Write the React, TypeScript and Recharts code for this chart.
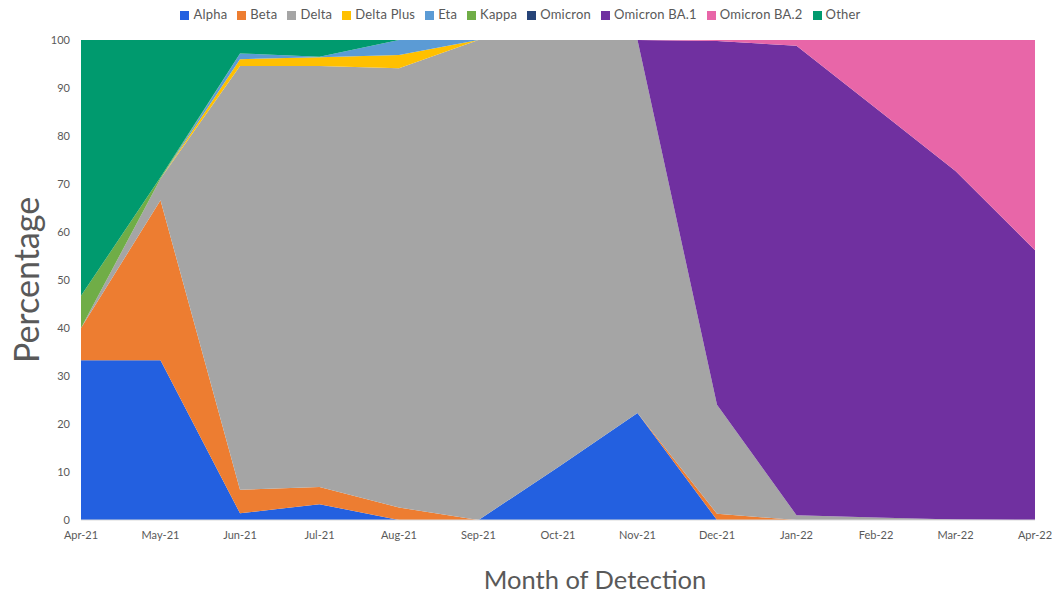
import React from 'react';
import { AreaChart, Area, XAxis, YAxis, Legend } from 'recharts';

const months = ['Apr-21', 'May-21', 'Jun-21', 'Jul-21', 'Aug-21', 'Sep-21', 'Oct-21', 'Nov-21', 'Dec-21', 'Jan-22', 'Feb-22', 'Mar-22', 'Apr-22'];

const alpha = [33.3, 33.3, 1.4, 3.3, 0, 0, 11, 22.3, 0, 0, 0, 0, 0];
const beta = [6.7, 33.3, 4.9, 3.6, 2.6, 0, 0, 0, 1.3, 0, 0, 0, 0];
const delta = [0, 4.5, 88.3, 87.7, 91.5, 100, 89, 77.7, 22.7, 1.0, 0.5, 0.1, 0];
const deltaPlus = [0, 0, 1.4, 1.8, 2.8, 0, 0, 0, 0, 0, 0, 0, 0];
const eta = [0, 0, 1.2, 0.1, 3.1, 0, 0, 0, 0, 0, 0, 0, 0];
const kappa = [6.7, 0.3, 0, 0, 0, 0, 0, 0, 0, 0, 0, 0, 0];
const omicron = [0, 0, 0, 0, 0, 0, 0, 0, 0, 0, 0, 0, 0];
const omicronBA1 = [0, 0, 0, 0, 0, 0, 0, 0, 75.8, 97.8, 85.3, 72.6, 56.2];
const omicronBA2 = [0, 0, 0, 0, 0, 0, 0, 0, 0.2, 1.2, 14.2, 27.3, 43.8];
const other = [53.3, 28.6, 2.8, 3.5, 0, 0, 0, 0, 0, 0, 0, 0, 0];

const yTicks = [0, 10, 20, 30, 40, 50, 60, 70, 80, 90, 100];

const series = [
  { key: 'alpha', name: 'Alpha', color: '#2360E0', values: alpha },
  { key: 'beta', name: 'Beta', color: '#ED7D31', values: beta },
  { key: 'delta', name: 'Delta', color: '#A5A5A5', values: delta },
  { key: 'deltaPlus', name: 'Delta Plus', color: '#FFC000', values: deltaPlus },
  { key: 'eta', name: 'Eta', color: '#5B9BD5', values: eta },
  { key: 'kappa', name: 'Kappa', color: '#70AD47', values: kappa },
  { key: 'omicron', name: 'Omicron', color: '#264478', values: omicron },
  { key: 'omicronBA1', name: 'Omicron BA.1', color: '#7030A0', values: omicronBA1 },
  { key: 'omicronBA2', name: 'Omicron BA.2', color: '#E866A8', values: omicronBA2 },
  { key: 'other', name: 'Other', color: '#009A6E', values: other },
];

const data = months.map((month, i) => {
  const row: Record<string, string | number> = { month };
  series.forEach((s) => {
    row[s.key] = s.values[i];
  });
  return row;
});

const textColor = '#595959';

export default function App() {
  return (
    <div style={{ position: 'absolute', left: 0, top: 0, width: 1055, height: 594, background: '#fff', fontFamily: 'Lato, "Open Sans", sans-serif' }}>
      <AreaChart width={1055} height={594} data={data} margin={{ top: 40, right: 20, bottom: 0, left: 0 }}>
        <XAxis
          dataKey="month"
          interval={0}
          tickSize={0}
          tickMargin={11}
          height={74}
          axisLine={{ stroke: '#D9D9D9' }}
          tick={{ fill: textColor, fontSize: 11 }}
          label={{ value: 'Month of Detection', position: 'insideBottom', offset: 5, dx: 37, fill: textColor, fontSize: 25.5 }}
        />
        <YAxis
          domain={[0, 100]}
          ticks={yTicks}
          width={81}
          tickSize={0}
          tickMargin={11}
          axisLine={false}
          tick={{ fill: textColor, fontSize: 11 }}
          label={{ value: 'Percentage', angle: -90, position: 'insideLeft', offset: 27, fill: textColor, fontSize: 34, style: { textAnchor: 'middle' } }}
        />
        <Legend
          verticalAlign="middle"
          align="center"
          iconType="square"
          iconSize={9}
          wrapperStyle={{ top: 6, left: 8, fontSize: 13, color: textColor, letterSpacing: 0.2 }}
          formatter={(value) => <span style={{ color: textColor }}>{value}</span>}
        />
        {series.map((s) => (
          <Area
            key={s.key}
            type="linear"
            dataKey={s.key}
            name={s.name}
            stackId="1"
            stroke="none"
            fill={s.color}
            fillOpacity={1}
            isAnimationActive={false}
          />
        ))}
      </AreaChart>
    </div>
  );
}
